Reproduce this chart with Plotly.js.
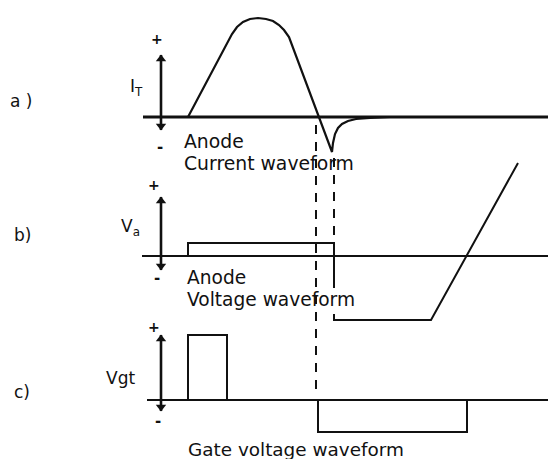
<!DOCTYPE html>
<html>
<head>
<meta charset="utf-8">
<script src="https://cdn.plot.ly/plotly-3.0.1.min.js"></script>
<style>html,body{margin:0;padding:0;background:#fff;}#chart{width:548px;height:459px;}</style>
</head>
<body>
<div id="chart"></div>
<script>
// ---- data (time in arbitrary units, amplitude in arbitrary units) ----
// a) anode current I_T
const currentT = [27, 67, 71, 76, 82, 89, 97, 105, 112, 118, 123, 128, 158, 171, 172, 174, 177, 181, 187, 195, 209, 229];
const currentV = [0, 75, 83, 90, 95, 98, 99, 98, 96, 92, 87, 80, 0, -35, -26, -17, -11, -7, -4, -2, -1, 0];
// b) anode voltage Va
const voltageT = [27, 27, 173, 173, 173, null, 173, 173, 270, 357];
const voltageV = [0, 13, 13, 0, -32, null, -58, -64, -64, 93];
// c) gate voltage Vgt
const gateT = [27, 27, 66, 66, null, 157, 157, 306, 306];
const gateV = [0, 65, 65, 0, null, 0, -32, -32, 0];
// baselines (start, end)
const baseA = [-18, 387];
const baseB = [-19, 387];
const baseC = [-14, 387];
// polarity axes (bottom, top) of each panel
const polA = [-13, 62];
const polB = [-14, 59];
const polC = [-11, 65];
// event instants (dashed markers)
const eventT = [155, 173];
// labels
const panelLabels = ['a )', 'b)', 'c)'];
const axisLabels = ['I<sub>T</sub>', 'V<sub>a</sub>', 'Vgt'];

const H = 459;
const py = p => 1 - p / H;
const FONT = 'DejaVu Sans, sans-serif';
const black = '#111';

function line(x, y, yaxis, w) {
  return {x: x, y: y, xaxis: 'x', yaxis: yaxis, mode: 'lines', type: 'scatter',
          line: {color: black, width: w}, connectgaps: false, hoverinfo: 'skip'};
}
function polarity(pol, yaxis) {
  return [
    line([0, 0], pol, yaxis, 2.6),
    {x: [0, 0], y: [pol[1] - 4, pol[0] + 4], xaxis: 'x', yaxis: yaxis, mode: 'markers', type: 'scatter',
     marker: {symbol: ['triangle-up', 'triangle-down'], size: 9, color: black, line: {width: 0}},
     hoverinfo: 'skip'}
  ];
}

const traces = [
  line(baseA, [0, 0], 'y', 3),
  line(currentT, currentV, 'y', 2.2),
  line(baseB, [0, 0], 'y2', 2),
  line(voltageT, voltageV, 'y2', 2),
  line(baseC, [0, 0], 'y3', 2),
  line(gateT, gateV, 'y3', 2)
].concat(polarity(polA, 'y'), polarity(polB, 'y2'), polarity(polC, 'y3'));

const hidden = {visible: false, showgrid: false, zeroline: false, fixedrange: true};

function txt(x, y, yref, text, size, anchor) {
  return {x: x, y: y, xref: 'x', yref: yref, text: text, showarrow: false,
          xanchor: anchor || 'center', yanchor: 'middle',
          font: {family: FONT, size: size, color: black}};
}

const annotations = [
  txt(-140, 16, 'y', panelLabels[0], 17),
  txt(-139, 21, 'y2', panelLabels[1], 17),
  txt(-139, 8, 'y3', panelLabels[2], 17),
  txt(-25, 30, 'y', axisLabels[0], 17),
  txt(-31, 28, 'y2', axisLabels[1], 17),
  txt(-41, 22, 'y3', axisLabels[2], 17),
  txt(-4, 78, 'y', '<b>+</b>', 14), txt(-1, -30, 'y', '<b>-</b>', 15),
  txt(-7, 71, 'y2', '<b>+</b>', 14), txt(-4, -22, 'y2', '<b>-</b>', 15),
  txt(-7, 73, 'y3', '<b>+</b>', 14), txt(-3, -21, 'y3', '<b>-</b>', 15),
  txt(21, -24, 'y', 'Anode', 18.8, 'left'),
  txt(21, -46, 'y', 'Current waveform', 18.8, 'left'),
  txt(24, -21, 'y2', 'Anode', 18.6, 'left'),
  txt(24, -43, 'y2', 'Voltage waveform', 18.6, 'left'),
  txt(25, -49, 'y3', 'Gate voltage waveform', 18.4, 'left')
];

const shapes = [
  {type: 'line', xref: 'x', yref: 'paper', x0: eventT[0], x1: eventT[0], y0: py(125), y1: py(392),
   line: {color: black, width: 2, dash: '9px,8px'}},
  {type: 'line', xref: 'x', yref: 'paper', x0: eventT[1], x1: eventT[1], y0: py(158), y1: py(243),
   line: {color: black, width: 2, dash: '9px,8px'}}
];

const layout = {
  width: 548, height: 459,
  margin: {l: 0, r: 0, t: 0, b: 0, pad: 0},
  paper_bgcolor: '#fff', plot_bgcolor: 'rgba(0,0,0,0)',
  showlegend: false,
  xaxis: Object.assign({range: [-161, 387]}, hidden),
  yaxis: Object.assign({domain: [py(200), 1], range: [-83, 117]}, hidden),
  yaxis2: Object.assign({domain: [py(350), py(150)], range: [-94, 106]}, hidden),
  yaxis3: Object.assign({domain: [0, py(300)], range: [-59, 100]}, hidden),
  annotations: annotations,
  shapes: shapes
};

Plotly.newPlot('chart', traces, layout, {staticPlot: true, displayModeBar: false});
</script>
</body>
</html>
